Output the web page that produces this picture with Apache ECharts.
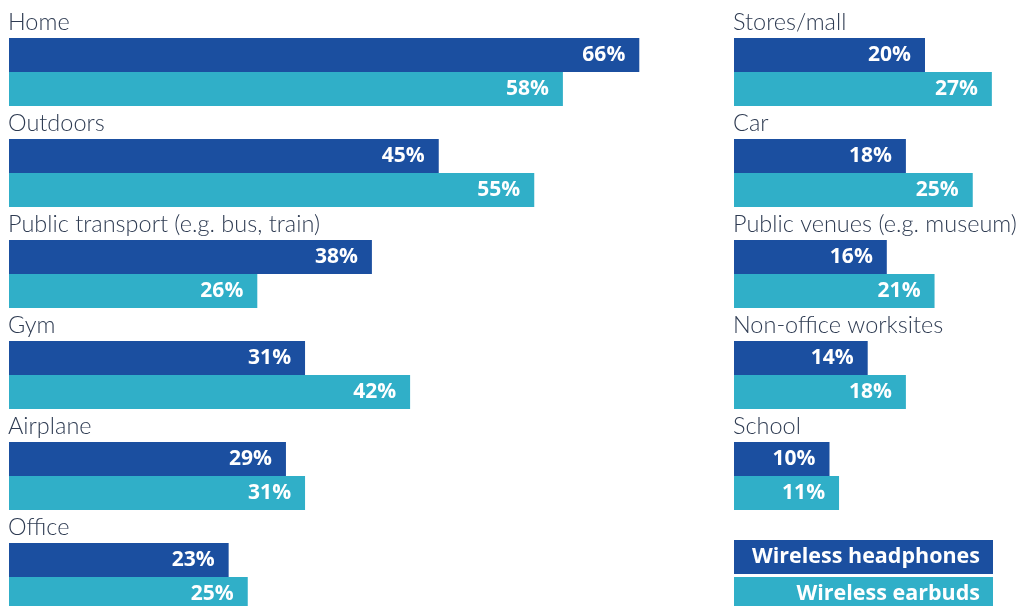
<!DOCTYPE html>
<html>
<head>
<meta charset="utf-8">
<script src="https://cdn.jsdelivr.net/npm/echarts@6/dist/echarts.min.js"></script>
<style>
  html, body { margin: 0; padding: 0; background: #fff; }
  #chart { width: 1033px; height: 606px; }
</style>
</head>
<body>
<div id="chart"></div>
<script>
// Places where people use their wireless audio devices (% of respondents)
const leftCategories = ['Home', 'Outdoors', 'Public transport (e.g. bus, train)', 'Gym', 'Airplane', 'Office'];
const leftHeadphones = [66, 45, 38, 31, 29, 23];
const leftEarbuds = [58, 55, 26, 42, 31, 25];

const rightCategories = ['Stores/mall', 'Car', 'Public venues (e.g. museum)', 'Non-office worksites', 'School', ''];
const rightHeadphones = [20, 18, 16, 14, 10, null];
const rightEarbuds = [27, 25, 21, 18, 11, null];

const seriesNames = ['Wireless headphones', 'Wireless earbuds'];
const colors = ['#1b4fa0', '#30afc8'];
const boldFont = '"Open Sans", Lato, sans-serif';

const chart = echarts.init(document.getElementById('chart'));

// Category names sit above their pair of bars: a tall blank second line
// lifts the name above the band centre.
const catLabel = {
  inside: true,
  margin: -1,
  align: 'left',
  verticalAlign: 'middle',
  formatter: v => '{n|' + v + '}\n{s| }',
  rich: {
    n: { color: '#2e3b52', fontFamily: 'Lato', fontWeight: 300, fontSize: 23.5, lineHeight: 24 },
    s: { fontSize: 10, lineHeight: 100 }
  }
};

function yAxis(idx, cats) {
  return {
    type: 'category', gridIndex: idx, data: cats, inverse: true,
    axisLine: { show: false }, axisTick: { show: false }, splitLine: { show: false },
    axisLabel: catLabel
  };
}
function xAxis(idx) {
  return { type: 'value', gridIndex: idx, min: 0, max: 100, show: false };
}
const valueLabel = {
  show: true, position: 'insideRight', distance: 14,
  formatter: p => p.value + '%',
  color: '#fff', fontFamily: boldFont, fontWeight: 'bold', fontSize: 21
};
function bar(name, data, idx, color) {
  return {
    name, type: 'bar', xAxisIndex: idx, yAxisIndex: idx, data,
    barWidth: 34, barGap: '0%', itemStyle: { color },
    label: valueLabel, silent: true, animation: false
  };
}

chart.setOption({
  animation: false,
  grid: [
    { left: 9, top: 21.5, width: 955, height: 606, outerBoundsMode: 'none', containLabel: false },
    { left: 734, top: 21.5, width: 955, height: 606, outerBoundsMode: 'none', containLabel: false }
  ],
  xAxis: [xAxis(0), xAxis(1)],
  yAxis: [yAxis(0, leftCategories), yAxis(1, rightCategories)],
  series: [
    bar(seriesNames[0], leftHeadphones, 0, colors[0]),
    bar(seriesNames[1], leftEarbuds, 0, colors[1]),
    bar(seriesNames[0], rightHeadphones, 1, colors[0]),
    bar(seriesNames[1], rightEarbuds, 1, colors[1])
  ],
  graphic: seriesNames.map((n, i) => ({
    type: 'group', left: 734, top: 540 + i * 37,
    children: [
      { type: 'rect', shape: { x: 0, y: 0, width: 259, height: 34 }, style: { fill: colors[i] } },
      { type: 'text', x: 246, y: 17, style: {
          text: n, fill: '#fff', align: 'right', verticalAlign: 'middle',
          font: 'bold 21.5px ' + boldFont } }
    ]
  }))
});
</script>
</body>
</html>
